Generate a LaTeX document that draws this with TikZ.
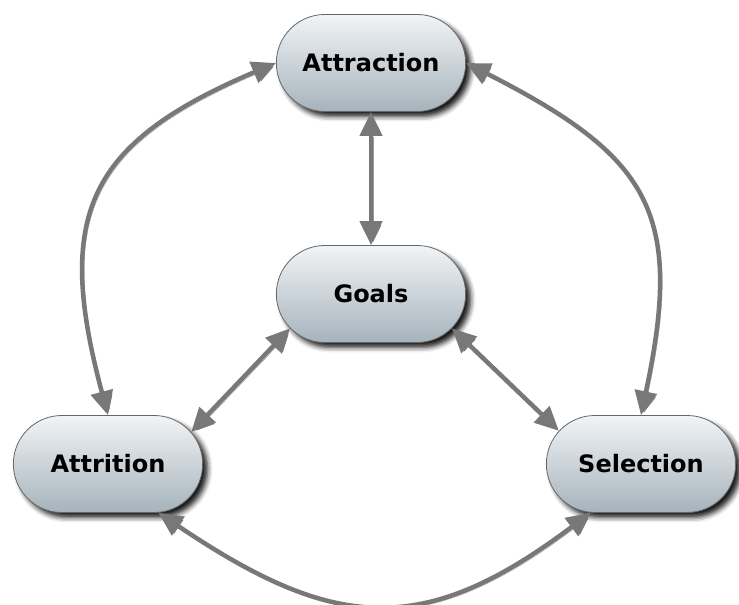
\documentclass[tikz,border=0pt]{standalone}
\usepackage{fontspec}
\setmainfont{DejaVu Sans}
\usetikzlibrary{shapes.misc,shadows.blur,arrows.meta}
\definecolor{topc}{HTML}{F2F4F6}
\definecolor{botc}{HTML}{A6B3BC}
\definecolor{conncol}{HTML}{787878}
\begin{document}
\begin{tikzpicture}[x=1pt,y=1pt,
  blob/.style={rounded rectangle, minimum width=196pt, minimum height=97pt,
    draw=black!60, line width=0.8pt, top color=topc, bottom color=botc,
    font=\fontsize{24}{28}\selectfont\bfseries,
    blur shadow={shadow xshift=5pt, shadow yshift=-5pt, shadow blur radius=5pt, shadow opacity=90}},
  conn/.style={draw=conncol, line width=4.5pt,
    {Triangle[length=24pt,width=22pt]}-{Triangle[length=24pt,width=22pt]},
    preaction={draw=black, opacity=0.4, transform canvas={xshift=2pt,yshift=-2pt}}}
]
\useasboundingbox (0,0) rectangle (739,605);
\node[blob] (attraction) at (371,542) {Attraction};
\node[blob] (goals) at (371,311) {Goals};
\node[blob] (attrition) at (108,141) {Attrition};
\node[blob] (selection) at (641,141) {Selection};

\draw[conn] (attraction.south) -- (goals.north);
\draw[conn] (goals.203) -- (attrition.21);
\draw[conn] (goals.-23) -- (selection.158);
\draw[conn] (attraction.west) to[out=203,in=105,looseness=1.35] (attrition.north);
\draw[conn] (attraction.east) to[out=-27,in=78,looseness=1.35] (selection.north);
\draw[conn] (attrition.-44) to[out=-34,in=217,looseness=1.25] (selection.224);
\end{tikzpicture}
\end{document}
